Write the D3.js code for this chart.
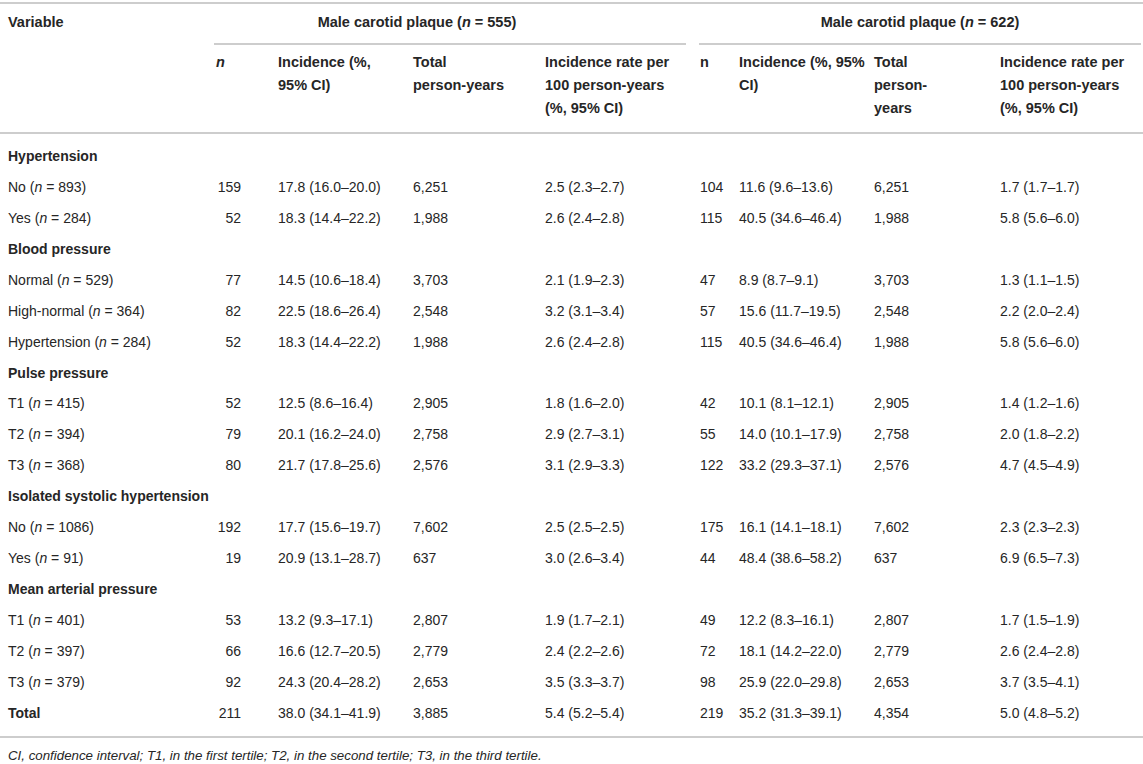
<!DOCTYPE html>
<html>
<head>
<meta charset="utf-8">
<script src="https://cdn.jsdelivr.net/npm/d3@7"></script>
<style>
  body { margin: 0; background: #fff; }
  svg { display: block; font-family: "Liberation Sans", Arial, Helvetica, sans-serif; }
</style>
</head>
<body>
<div id="chart"></div>
<script>
// table content
const rowLabels = [
  "Hypertension", "No (n = 893)", "Yes (n = 284)",
  "Blood pressure", "Normal (n = 529)", "High-normal (n = 364)", "Hypertension (n = 284)",
  "Pulse pressure", "T1 (n = 415)", "T2 (n = 394)", "T3 (n = 368)",
  "Isolated systolic hypertension", "No (n = 1086)", "Yes (n = 91)",
  "Mean arterial pressure", "T1 (n = 401)", "T2 (n = 397)", "T3 (n = 379)",
  "Total"
];
const boldRows = ["Hypertension", "Blood pressure", "Pulse pressure",
  "Isolated systolic hypertension", "Mean arterial pressure", "Total"];

const g1N    = ["", "159", "52", "", "77", "82", "52", "", "52", "79", "80", "", "192", "19", "", "53", "66", "92", "211"];
const g1Inc  = ["", "17.8 (16.0–20.0)", "18.3 (14.4–22.2)", "", "14.5 (10.6–18.4)", "22.5 (18.6–26.4)", "18.3 (14.4–22.2)", "",
  "12.5 (8.6–16.4)", "20.1 (16.2–24.0)", "21.7 (17.8–25.6)", "", "17.7 (15.6–19.7)", "20.9 (13.1–28.7)", "",
  "13.2 (9.3–17.1)", "16.6 (12.7–20.5)", "24.3 (20.4–28.2)", "38.0 (34.1–41.9)"];
const g1PY   = ["", "6,251", "1,988", "", "3,703", "2,548", "1,988", "", "2,905", "2,758", "2,576", "", "7,602", "637", "",
  "2,807", "2,779", "2,653", "3,885"];
const g1Rate = ["", "2.5 (2.3–2.7)", "2.6 (2.4–2.8)", "", "2.1 (1.9–2.3)", "3.2 (3.1–3.4)", "2.6 (2.4–2.8)", "",
  "1.8 (1.6–2.0)", "2.9 (2.7–3.1)", "3.1 (2.9–3.3)", "", "2.5 (2.5–2.5)", "3.0 (2.6–3.4)", "",
  "1.9 (1.7–2.1)", "2.4 (2.2–2.6)", "3.5 (3.3–3.7)", "5.4 (5.2–5.4)"];

const g2N    = ["", "104", "115", "", "47", "57", "115", "", "42", "55", "122", "", "175", "44", "", "49", "72", "98", "219"];
const g2Inc  = ["", "11.6 (9.6–13.6)", "40.5 (34.6–46.4)", "", "8.9 (8.7–9.1)", "15.6 (11.7–19.5)", "40.5 (34.6–46.4)", "",
  "10.1 (8.1–12.1)", "14.0 (10.1–17.9)", "33.2 (29.3–37.1)", "", "16.1 (14.1–18.1)", "48.4 (38.6–58.2)", "",
  "12.2 (8.3–16.1)", "18.1 (14.2–22.0)", "25.9 (22.0–29.8)", "35.2 (31.3–39.1)"];
const g2PY   = ["", "6,251", "1,988", "", "3,703", "2,548", "1,988", "", "2,905", "2,758", "2,576", "", "7,602", "637", "",
  "2,807", "2,779", "2,653", "4,354"];
const g2Rate = ["", "1.7 (1.7–1.7)", "5.8 (5.6–6.0)", "", "1.3 (1.1–1.5)", "2.2 (2.0–2.4)", "5.8 (5.6–6.0)", "",
  "1.4 (1.2–1.6)", "2.0 (1.8–2.2)", "4.7 (4.5–4.9)", "", "2.3 (2.3–2.3)", "6.9 (6.5–7.3)", "",
  "1.7 (1.5–1.9)", "2.6 (2.4–2.8)", "3.7 (3.5–4.1)", "5.0 (4.8–5.2)"];

const groupTitles = ["Male carotid plaque (n = 555)", "Male carotid plaque (n = 622)"];
const g1Headers = [["n"], ["Incidence (%,", "95% CI)"], ["Total", "person-years"],
  ["Incidence rate per", "100 person-years", "(%, 95% CI)"]];
const g2Headers = [["n"], ["Incidence (%, 95%", "CI)"], ["Total", "person-", "years"],
  ["Incidence rate per", "100 person-years", "(%, 95% CI)"]];
const footnote = "CI, confidence interval; T1, in the first tertile; T2, in the second tertile; T3, in the third tertile.";

const width = 1143, height = 764;
const ink = "#262626", rule = "#bdbdbd";

const svg = d3.select("#chart").append("svg")
    .attr("width", width)
    .attr("height", height)
    .style("font-size", "14px");

svg.append("rect").attr("width", width).attr("height", height).attr("fill", "#fff");

// rows
const yRow = d3.scalePoint()
    .domain(d3.range(rowLabels.length))
    .range([156, 713]);

// columns
const colKeys = ["var", "n1", "inc1", "py1", "rate1", "n2", "inc2", "py2", "rate2"];
const xCol = d3.scaleOrdinal()
    .domain(colKeys)
    .range([8, 241, 278, 413, 545, 700, 739, 874, 1000]);

// write text, italicising a lone "n" before " ="
function richText(sel, str, italicAll) {
    const parts = str.split(/(\bn(?= =))/);
    parts.forEach(p => {
        if (!p) return;
        sel.append("tspan")
            .attr("font-style", (italicAll || p === "n") ? "italic" : null)
            .text(p);
    });
}

// horizontal rules
const rules = [[0, width, 3], [214, 686, 44], [699, 1141, 44], [0, width, 133], [0, width, 737]];
svg.selectAll(".rule")
    .data(rules)
    .join("line")
    .attr("class", "rule")
    .attr("x1", d => d[0]).attr("x2", d => d[1])
    .attr("y1", d => d[2]).attr("y2", d => d[2])
    .attr("stroke", rule).attr("stroke-width", 1.6);

// header row 1
const head = svg.append("g").attr("fill", ink).attr("font-weight", "bold").style("font-size", "14.5px");

head.append("text").attr("x", 8).attr("y", 22).attr("dy", "0.35em").text("Variable");

const titleCenters = [417, 920];
groupTitles.forEach((t, i) => {
    const tx = head.append("text").attr("x", titleCenters[i]).attr("y", 22).attr("dy", "0.35em")
        .attr("text-anchor", "middle");
    richText(tx, t);
});

// header row 2
const headerLineY = d3.scaleLinear().domain([0, 1]).range([62, 85]);
function drawHeaders(headers, keys, italicN) {
    headers.forEach((lines, i) => {
        const key = keys[i];
        const x = key === "n1" ? 216 : xCol(key);
        lines.forEach((ln, j) => {
            head.append("text")
                .attr("x", x).attr("y", headerLineY(j)).attr("dy", "0.35em")
                .attr("font-style", (italicN && ln === "n") ? "italic" : null)
                .text(ln);
        });
    });
}
drawHeaders(g1Headers, ["n1", "inc1", "py1", "rate1"], true);
drawHeaders(g2Headers, ["n2", "inc2", "py2", "rate2"], false);

// body
const body = svg.append("g").attr("fill", ink);

body.selectAll(".rowLabel")
    .data(rowLabels)
    .join("text")
    .attr("class", "rowLabel")
    .attr("x", xCol("var"))
    .attr("y", (d, i) => yRow(i))
    .attr("dy", "0.35em")
    .attr("font-weight", d => boldRows.includes(d) ? "bold" : null)
    .each(function (d) { richText(d3.select(this), d); });

const columns = [
    ["n1", g1N, "end"], ["inc1", g1Inc, "start"], ["py1", g1PY, "start"], ["rate1", g1Rate, "start"],
    ["n2", g2N, "start"], ["inc2", g2Inc, "start"], ["py2", g2PY, "start"], ["rate2", g2Rate, "start"]
];
columns.forEach(([key, vals, anchor]) => {
    body.selectAll(".c-" + key)
        .data(vals)
        .join("text")
        .attr("class", "c-" + key)
        .attr("x", xCol(key))
        .attr("y", (d, i) => yRow(i))
        .attr("dy", "0.35em")
        .attr("text-anchor", anchor)
        .text(d => d);
});

// footnote
svg.append("text").attr("x", 8).attr("y", 755).attr("dy", "0.35em")
    .attr("font-style", "italic").attr("fill", ink).style("font-size", "13.3px")
    .text(footnote);
</script>
</body>
</html>
